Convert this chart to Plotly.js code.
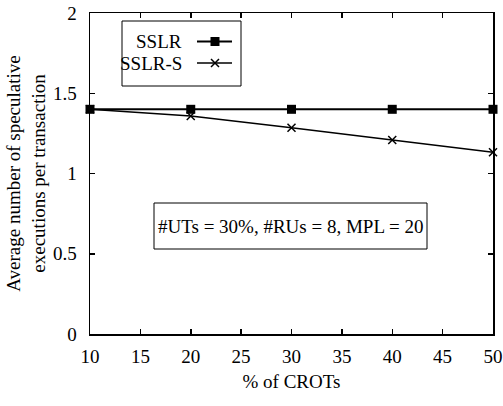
<!DOCTYPE html>
<html><head><meta charset="utf-8">
<script src="https://cdn.plot.ly/plotly-3.0.1.min.js"></script>
<style>html,body{margin:0;padding:0;background:#fff}#c{width:503px;height:406px}</style>
</head><body><div id="c"></div>
<script>
const crots = [10, 20, 30, 40, 50];
const sslr = [1.40, 1.40, 1.40, 1.40, 1.40];
const sslrS = [1.40, 1.358, 1.285, 1.209, 1.132];
const seriesNames = ['SSLR', 'SSLR-S'];
const xTicks = [10, 15, 20, 25, 30, 35, 40, 45, 50];
const yTicks = [0, 0.5, 1, 1.5, 2];
const yTickText = ['0', '0.5', '1', '1.5', '2'];
const note = '#UTs = 30%, #RUs = 8, MPL = 20';

const F = 'Liberation Serif';
const L = 90, R = 493, T = 13, B = 334;

const traces = [
  {x: crots, y: sslr, mode: 'lines+markers', name: seriesNames[0], cliponaxis: false,
   line: {color: '#000', width: 2}, marker: {symbol: 'square', size: 9, color: '#000'}, showlegend: false},
  {x: crots, y: sslrS, mode: 'lines+markers', name: seriesNames[1], cliponaxis: false,
   line: {color: '#000', width: 1.6}, marker: {symbol: 'x-thin', size: 8, color: '#000', line: {width: 1.5, color: '#000'}}, showlegend: false},
  {x: [197, 232], y: [41.5, 41.5], xaxis: 'x2', yaxis: 'y2', mode: 'lines', line: {color: '#000', width: 2}, showlegend: false, hoverinfo: 'skip'},
  {x: [215], y: [41.5], xaxis: 'x2', yaxis: 'y2', mode: 'markers', marker: {symbol: 'square', size: 9, color: '#000'}, showlegend: false, hoverinfo: 'skip'},
  {x: [197, 232], y: [63, 63], xaxis: 'x2', yaxis: 'y2', mode: 'lines', line: {color: '#000', width: 1.6}, showlegend: false, hoverinfo: 'skip'},
  {x: [215], y: [63], xaxis: 'x2', yaxis: 'y2', mode: 'markers', marker: {symbol: 'x-thin', size: 8, color: '#000', line: {width: 1.5, color: '#000'}}, showlegend: false, hoverinfo: 'skip'}
];

const layout = {
  width: 503, height: 406,
  margin: {l: L, r: 503 - R, t: T, b: 406 - B},
  paper_bgcolor: '#fff', plot_bgcolor: '#fff',
  font: {family: F, size: 18, color: '#000'},
  showlegend: false,
  xaxis: {range: [10, 50], tickvals: xTicks, ticks: 'inside', ticklen: 5, tickwidth: 1.5, tickcolor: '#000',
    showline: true, linecolor: '#000', linewidth: 1.5, mirror: 'ticks', showgrid: false, zeroline: false,
    ticklabelstandoff: 5,
    tickfont: {family: F, size: 19}, title: {text: '% of CROTs', font: {family: F, size: 19}, standoff: 8}},
  yaxis: {range: [0, 2], tickvals: yTicks, ticktext: yTickText, ticks: 'inside', ticklen: 5, tickwidth: 1.5, tickcolor: '#000',
    showline: true, linecolor: '#000', linewidth: 1.5, mirror: 'ticks', showgrid: false, zeroline: false,
    ticklabelstandoff: 8,
    tickfont: {family: F, size: 19}, title: {text: 'Average number of speculative<br>executions per transaction', font: {family: F, size: 19}, standoff: 2}},
  xaxis2: {overlaying: 'x', range: [L, R], visible: false, fixedrange: true},
  yaxis2: {overlaying: 'y', range: [B, T], visible: false, fixedrange: true},
  shapes: [
    {type: 'rect', xref: 'x2', yref: 'y2', x0: 122, x1: 241, y0: 21, y1: 86, line: {color: '#000', width: 1}},
    {type: 'rect', xref: 'x2', yref: 'y2', x0: 154, x1: 427, y0: 203, y1: 249, line: {color: '#000', width: 1}}
  ],
  annotations: [
    {xref: 'x2', yref: 'y2', x: 184, y: 41.5, text: seriesNames[0], showarrow: false, xanchor: 'right', yanchor: 'middle', font: {family: F, size: 19}},
    {xref: 'x2', yref: 'y2', x: 184, y: 63, text: seriesNames[1], showarrow: false, xanchor: 'right', yanchor: 'middle', font: {family: F, size: 19}},
    {xref: 'x2', yref: 'y2', x: 290.5, y: 226, text: note, showarrow: false, xanchor: 'center', yanchor: 'middle', font: {family: F, size: 19}}
  ]
};
Plotly.newPlot('c', traces, layout, {displayModeBar: false, staticPlot: true});
</script></body></html>
